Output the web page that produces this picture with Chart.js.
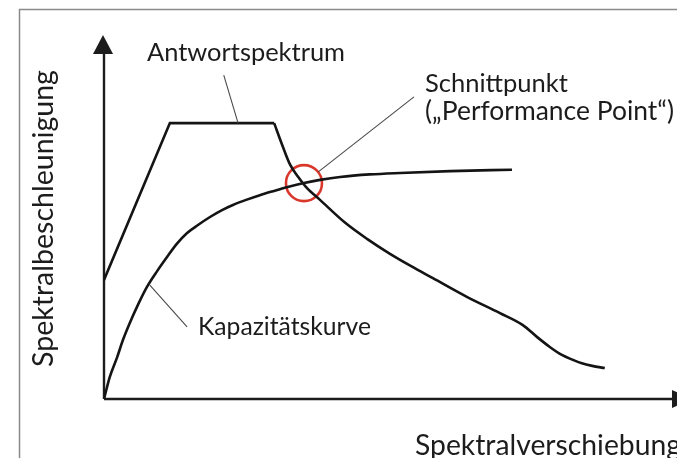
<!DOCTYPE html>
<html>
<head>
<meta charset="utf-8">
<script src="https://cdn.jsdelivr.net/npm/chart.js@4"></script>
<style>
  html, body { margin: 0; padding: 0; background: #fff; }
  #wrap { width: 677px; height: 458px; }
</style>
</head>
<body>
<div id="wrap"><canvas id="chart" width="677" height="458"></canvas></div>
<script>
// Antwortspektrum (Spektralverschiebung / Spektralbeschleunigung, relative units 0..100)
const specX = [0, 11.5, 29.7, 31.1, 32.5, 33.9, 35.4, 37.7, 42.1, 45.9, 49.7, 53.6, 57.4, 63.4, 69.1, 73.1, 75.6, 77.8, 79.9, 81.9, 83.4, 85.2, 87.4];
const specY = [32.7, 75.8, 75.8, 69.8, 64.3, 61.0, 58.0, 54.7, 48.4, 44.0, 40.1, 36.5, 33.2, 28.0, 23.6, 20.3, 17.0, 14.3, 12.1, 10.7, 9.8, 9.1, 8.5];
const plateauEnd = 2; // index where the plateau ends and the curved branch starts

// Kapazitätskurve
const capX = [0, 1.0, 2.3, 3.3, 4.5, 5.9, 7.5, 9.3, 11.0, 12.7, 14.5, 16.4, 18.5, 20.6, 22.5, 24.8, 27.2, 29.5, 31.9, 34.7, 37.7, 41.2, 46.4, 51.7, 60.4, 71.2];
const capY = [0, 6.0, 11.5, 16.2, 20.9, 25.8, 30.8, 35.2, 39.0, 42.6, 45.6, 47.8, 50.0, 51.9, 53.3, 54.7, 56.0, 57.1, 58.2, 59.3, 60.2, 61.0, 61.7, 62.1, 62.6, 63.0];

// Schnittpunkt ("Performance Point")
const perfX = [34.9];
const perfY = [59.3];

const xTitle = 'Spektralverschiebung';
const yTitle = 'Spektralbeschleunigung';

const toPoints = (xs, ys) => xs.map((x, i) => ({ x: x, y: ys[i] }));
const specPoints = toPoints(specX, specY);

const FONT = 'Lato, "Open Sans", sans-serif';
const INK = '#1c1c1c';

// draw text fitted to a target width
function fitText(ctx, text, x, y, width) {
  ctx.font = '20px ' + FONT;
  const size = 20 * width / ctx.measureText(text).width;
  ctx.font = size.toFixed(2) + 'px ' + FONT;
  ctx.fillText(text, x, y);
}

const decorPlugin = {
  id: 'decor',
  beforeDatasetsDraw(chart) {
    const ctx = chart.ctx;
    const xs = chart.scales.x, ys = chart.scales.y;
    const x0 = xs.getPixelForValue(0), y0 = ys.getPixelForValue(0);
    ctx.save();

    // outer frame (scan border)
    ctx.strokeStyle = '#8a8a8a';
    ctx.lineWidth = 1.5;
    ctx.beginPath();
    ctx.moveTo(19.5, 458);
    ctx.lineTo(19.5, 9.5);
    ctx.lineTo(677, 9.5);
    ctx.stroke();

    // axes with arrows
    ctx.strokeStyle = INK;
    ctx.fillStyle = INK;
    ctx.lineWidth = 2.4;
    ctx.beginPath();
    ctx.moveTo(x0, y0);
    ctx.lineTo(x0, chart.chartArea.top + 16);
    ctx.moveTo(x0, y0);
    ctx.lineTo(chart.chartArea.right - 4, y0);
    ctx.stroke();

    const top = chart.chartArea.top;
    ctx.beginPath();
    ctx.moveTo(x0 - 1, top);
    ctx.lineTo(x0 - 11, top + 19);
    ctx.lineTo(x0 + 9, top + 19);
    ctx.closePath();
    ctx.fill();

    const right = chart.chartArea.right;
    ctx.beginPath();
    ctx.moveTo(right + 14, y0);
    ctx.lineTo(right - 5, y0 - 9);
    ctx.lineTo(right - 5, y0 + 9);
    ctx.closePath();
    ctx.fill();
    ctx.restore();
  },
  afterDatasetsDraw(chart) {
    const ctx = chart.ctx;
    const xs = chart.scales.x, ys = chart.scales.y;
    const px = v => xs.getPixelForValue(v);
    const py = v => ys.getPixelForValue(v);
    ctx.save();

    // leader lines
    ctx.strokeStyle = '#4a4a4a';
    ctx.lineWidth = 1.1;
    const leaders = [
      [20.9, 89.0, 23.4, 75.8],
      [54.1, 83.0, 37.4, 62.4],
      [8.0, 31.3, 14.5, 19.8]
    ];
    leaders.forEach(l => {
      ctx.beginPath();
      ctx.moveTo(px(l[0]), py(l[1]));
      ctx.lineTo(px(l[2]), py(l[3]));
      ctx.stroke();
    });

    // labels
    ctx.fillStyle = INK;
    ctx.textAlign = 'left';
    ctx.textBaseline = 'alphabetic';
    fitText(ctx, 'Antwortspektrum', 147, 61, 198);
    fitText(ctx, 'Schnittpunkt', 425, 92, 143);
    fitText(ctx, '(\u201EPerformance Point\u201C)', 425, 120, 249);
    fitText(ctx, 'Kapazitätskurve', 198, 335, 173);
    fitText(ctx, xTitle, 415, 455, 266);

    ctx.save();
    ctx.translate(53, 367);
    ctx.rotate(-Math.PI / 2);
    fitText(ctx, yTitle, 0, 0, 297);
    ctx.restore();

    ctx.restore();
  }
};

const chart = new Chart(document.getElementById('chart').getContext('2d'), {
  type: 'line',
  data: {
    datasets: [{
      // rising branch + plateau: straight segments
      label: 'Antwortspektrum',
      data: specPoints.slice(0, plateauEnd + 1),
      borderColor: '#141414',
      borderWidth: 2.6,
      pointRadius: 0,
      tension: 0,
      fill: false
    }, {
      // descending branch: smooth
      label: 'Antwortspektrum',
      data: specPoints.slice(plateauEnd),
      borderColor: '#141414',
      borderWidth: 2.6,
      pointRadius: 0,
      cubicInterpolationMode: 'monotone',
      fill: false
    }, {
      label: 'Kapazitätskurve',
      data: toPoints(capX, capY),
      borderColor: '#141414',
      borderWidth: 2.6,
      pointRadius: 0,
      cubicInterpolationMode: 'monotone',
      fill: false
    }, {
      label: 'Schnittpunkt',
      data: toPoints(perfX, perfY),
      showLine: false,
      pointRadius: 18,
      pointBorderWidth: 2.6,
      pointBorderColor: '#d9372c',
      pointBackgroundColor: 'rgba(0,0,0,0)'
    }]
  },
  options: {
    responsive: false,
    animation: false,
    events: [],
    layout: { autoPadding: false, padding: { left: 104, top: 35, right: 0, bottom: 59 } },
    plugins: {
      legend: { display: false },
      tooltip: { enabled: false }
    },
    scales: {
      x: { type: 'linear', min: 0, max: 100, display: false },
      y: { type: 'linear', min: 0, max: 100, display: false }
    }
  },
  plugins: [decorPlugin]
});
</script>
</body>
</html>
